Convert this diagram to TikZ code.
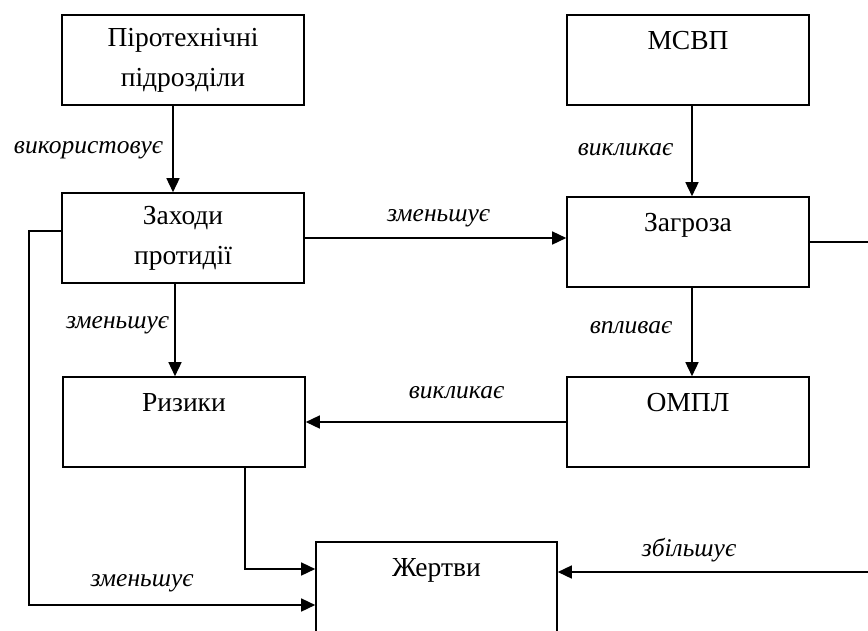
\documentclass[tikz,border=0pt]{standalone}
\usepackage{fontspec}
\setmainfont{Liberation Serif}
\usetikzlibrary{arrows.meta,calc}
\newcommand\myboxfont{\fontsize{27.5}{40}\selectfont}
\newcommand\mylblfont{\fontsize{25.5}{30}\selectfont\itshape}
\tikzset{
  box/.style={draw, line width=1.6pt, minimum width=242pt, minimum height=90pt, inner sep=0pt, align=center, font=\myboxfont},
  boxtitle/.style={anchor=base, font=\myboxfont, inner sep=0pt},
  lbl/.style={font=\mylblfont, inner sep=0pt},
  arr/.style={line width=1.5pt, -{Triangle[length=14pt,width=13pt]}}
}
\begin{document}
\begin{tikzpicture}[x=1pt,y=-1pt]
\useasboundingbox (0,0) rectangle (868,630);
\clip (0,0) rectangle (868,630);
% boxes
\node[box] (pir) at (183,60) {Піротехнічні\\підрозділи};
\node[box] (msvp) at (688,60) {};
\node[boxtitle] at ([yshift=-35pt]msvp.north) {МСВП};
\node[box] (zah) at (183,238) {Заходи\\протидії};
\node[box] (zag) at (688,242) {};
\node[boxtitle] at ([yshift=-35pt]zag.north) {Загроза};
\node[box] (riz) at (184,422) {};
\node[boxtitle] at ([yshift=-35pt]riz.north) {Ризики};
\node[box] (ompl) at (688,422) {};
\node[boxtitle] at ([yshift=-35pt]ompl.north) {ОМПЛ};
\node[box, minimum width=241pt] (zhe) at (436.5,587) {};
\node[boxtitle] at ([yshift=-35pt]zhe.north) {Жертви};
% right edge route
\coordinate (redge) at (874,242);
% connectors
\draw[arr] ([xshift=-10pt]pir.south) -- ([xshift=-10pt]zah.north);
\draw[arr] ([xshift=4pt]msvp.south) -- ([xshift=4pt]zag.north);
\draw[arr] (zah.east) -- (zah.east -| zag.west);
\draw[arr] ([xshift=-8pt]zah.south) -- ([xshift=-8pt]zah.south |- riz.north);
\draw[arr] ([xshift=4pt]zag.south) -- ([xshift=4pt]zag.south |- ompl.north);
\draw[arr] (ompl.west) -- (ompl.west -| riz.east);
\draw[arr] ([xshift=61pt]riz.south) |- ([yshift=18pt]zhe.west);
\draw[arr] ([yshift=7pt]zah.west) -- ++(-32,0) |- ([yshift=-18pt]zhe.west);
\draw[arr] (zag.east) -- (redge) |- ([yshift=15pt]zhe.east);
% labels
\node[lbl] at (88.5,150) {використовує};
\node[lbl] at (625.5,150) {викликає};
\node[lbl] at (438.5,218) {зменьшує};
\node[lbl] at (117.5,325) {зменьшує};
\node[lbl] at (631,328) {впливає};
\node[lbl] at (456.5,393) {викликає};
\node[lbl] at (689,550) {збільшує};
\node[lbl] at (142,583) {зменьшує};
\end{tikzpicture}
\end{document}
